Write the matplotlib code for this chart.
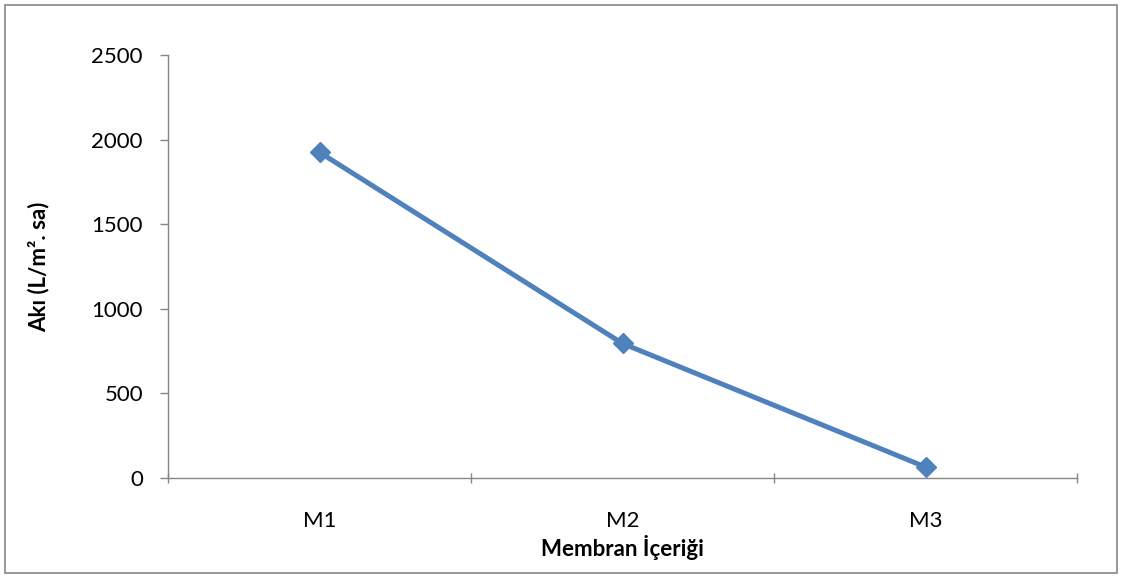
import matplotlib.pyplot as plt
from matplotlib.patches import Rectangle

categories = ["M1", "M2", "M3"]
flux = [1925, 795, 65]

plt.rcParams['font.family'] = ['Lato', 'DejaVu Sans']

fig = plt.figure(figsize=(11.21, 5.78), dpi=100)
ax = fig.add_axes([168 / 1121, 1 - 478 / 578, (1077 - 168) / 1121, (478 - 55) / 578])

x = list(range(len(categories)))
ax.plot(x, flux, color='#4F81BD', lw=3.6, marker='D', markersize=10,
        markerfacecolor='#4F81BD', markeredgecolor='#4F81BD', solid_capstyle='round')

ax.set_xlim(-0.5, len(categories) - 0.5)
ax.set_ylim(0, 2500)
ax.set_yticks([0, 500, 1000, 1500, 2000, 2500])
ax.set_xticks(x)
ax.set_xticklabels(categories)
ax.set_xticks([i - 0.5 for i in range(len(categories) + 1)], minor=True)
ax.tick_params(axis='x', which='major', length=0, pad=24, labelsize=16)
ax.tick_params(axis='x', which='minor', length=7, direction='inout', color='#868686', width=1)
ax.tick_params(axis='y', length=6, direction='out', color='#868686', width=1, labelsize=16, pad=12)

for s in ['top', 'right']:
    ax.spines[s].set_visible(False)
for s in ['left', 'bottom']:
    ax.spines[s].set_color('#868686')
    ax.spines[s].set_linewidth(1)

ax.set_xlabel("Membran İçeriği", fontsize=16, fontweight='bold', labelpad=3)
ax.set_ylabel("Akı (L/m². sa)", fontsize=16, fontweight='bold', labelpad=30)

fig.patches.append(Rectangle((5 / 1121, 5 / 578), 1112 / 1121, 568 / 578, transform=fig.transFigure,
                             fill=False, edgecolor='#868686', lw=1.2))

fig.savefig("out.png", dpi=100)
